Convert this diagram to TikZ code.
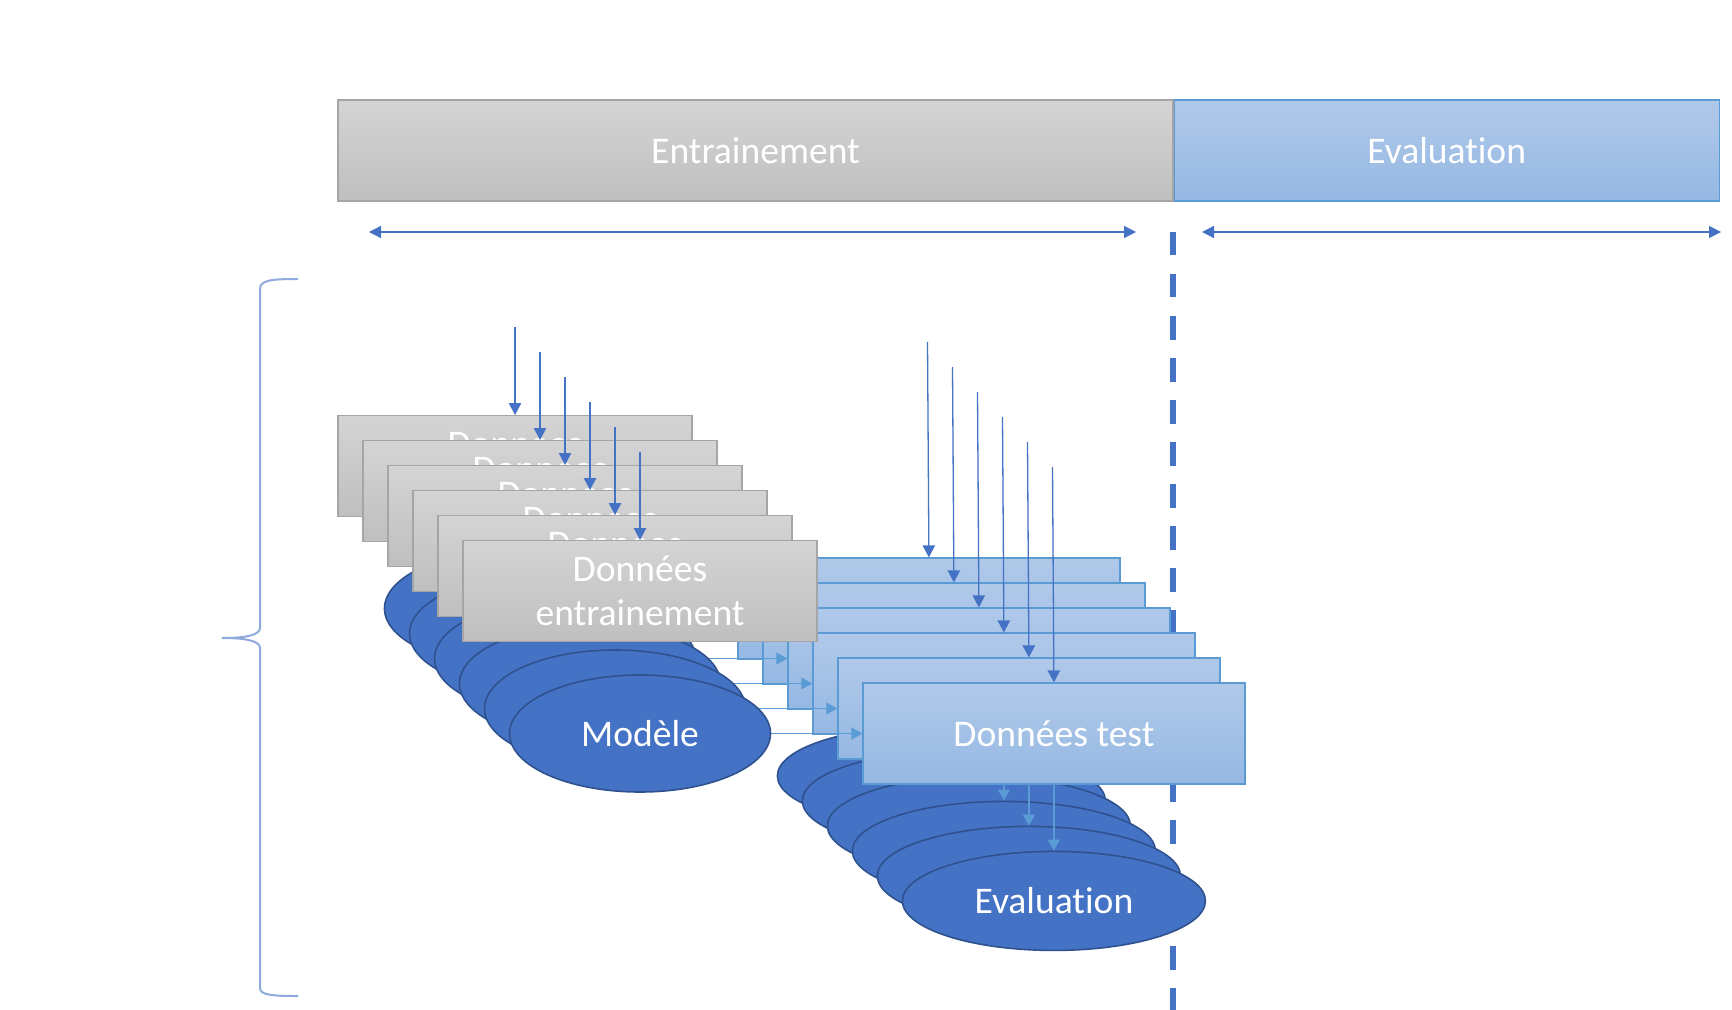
\documentclass[tikz,border=0pt]{standalone}
\usepackage{fontspec}
\setmainfont{Carlito}[Ligatures=CommonOff]
\usetikzlibrary{positioning,arrows.meta,shapes.geometric}
\definecolor{cdark}{HTML}{4472C4}
\definecolor{clight}{HTML}{5B9BD5}
\definecolor{cedge}{HTML}{2F528F}
\definecolor{cgrayedge}{HTML}{A5A5A5}
\definecolor{cgraytop}{HTML}{D4D4D4}
\definecolor{cgraybot}{HTML}{BFBFBF}
\definecolor{cbluetop}{HTML}{B0C9E9}
\definecolor{cbluebot}{HTML}{95B8E3}
\definecolor{cbrace}{HTML}{8FAADC}
\pgfdeclarelayer{paper}
\pgfdeclarelayer{under}
\pgfdeclarelayer{front}
\pgfsetlayers{paper,under,main,front}
\tikzset{
  lbl/.style={font=\fontsize{18.8}{22}\selectfont, text=white, align=center, inner sep=0pt},
  graybox/.style={lbl, rectangle, draw=cgrayedge, line width=0.6pt, top color=cgraytop,
                  bottom color=cgraybot, minimum width=177pt, minimum height=50.5pt},
  bluebox/.style={lbl, rectangle, draw=clight, line width=0.6pt, top color=cbluetop,
                  bottom color=cbluebot, minimum width=191pt, minimum height=50.5pt},
  model/.style={lbl, ellipse, draw=cedge, line width=0.8pt, fill=cdark,
                minimum width=130.5pt, minimum height=58.5pt},
  score/.style={lbl, ellipse, draw=cedge, line width=0.8pt, fill=cdark,
                minimum width=151.5pt, minimum height=49.5pt},
  feed/.style={-{Triangle[length=6pt, width=6.2pt]}, draw=cdark, line width=0.65pt},
  link/.style={-{Triangle[length=5.5pt, width=6pt]}, draw=clight, line width=0.6pt},
  span/.style={draw=cdark, line width=0.65pt, {Triangle[length=6pt, width=6pt]}-{Triangle[length=6pt, width=6pt]}},
  cutline/.style={draw=cdark, line width=3pt, dash pattern=on 11.75pt off 9.25pt}
}
\begin{document}
\begin{tikzpicture}[x=0.5pt, y=-0.5pt]
\begin{pgfonlayer}{paper}
\fill[white] (0,0) rectangle (1732,1010);
\end{pgfonlayer}
\path[use as bounding box] (0,0) rectangle (1732,1010);
% phases
\node[graybox, minimum width=417.5pt] (entr) at (755.5,150.5) {Entrainement};
\node[bluebox, minimum width=272.5pt, right=0pt of entr] (eval) {Evaluation};
\coordinate (trl) at (369,232);
\coordinate (trr) at (1136,232);
\coordinate (evl) at (1202,232);
\coordinate (evr) at (1721,232);
\coordinate (cutt) at (1173,232);
\coordinate (cutb) at (1173,1010);
\draw[span] (trl) -- (trr);
\draw[span] (evl) -- (evr);
\begin{pgfonlayer}{paper}
\draw[cutline] (cutt) -- (cutb);
\end{pgfonlayer}
% brace
\draw[cbrace, line width=1pt] (298,279) .. controls (272,279) and (260,280) .. (260,289)
  -- (260,628) .. controls (260,636) and (242,638) .. (222,638)
  .. controls (242,638) and (260,640) .. (260,648)
  -- (260,988) .. controls (260,995) and (272,996) .. (298,996);
% training stack
\begin{pgfonlayer}{front}
\foreach \i in {0,...,5} {
  \node[model] (md\i) at (515+25*\i, 608.5+25*\i) {Modèle};
}
\foreach \i in {0,...,5} {
  \node[graybox, above=16pt of md\i] (tr\i) {Données\\entrainement};
  \coordinate (trin\i) at (515+25*\i, 327+25*\i);
  \draw[feed] (trin\i) -- (tr\i.north);
}
\end{pgfonlayer}
% test stack
\foreach \i in {0,...,5} {
  \node[bluebox, right=45.5pt of md\i] (ts\i) {Données test};
  \coordinate (tsin\i) at (927.5+25*\i, 342+25*\i);
  \draw[feed] (tsin\i) -- (ts\i.north);
}
\foreach \i in {0,...,5} {
  \draw[link] (md\i.east) -- (ts\i.west);
}
% evaluation stack
\begin{pgfonlayer}{paper}
\foreach \i in {0,...,5} {
  \node[score, below=33pt of ts\i] (ev\i) {Evaluation};
}
\end{pgfonlayer}
\begin{pgfonlayer}{under}
\foreach \i in {0,...,5} {
  \draw[link] (ts\i.south) -- (ev\i.north);
}
\end{pgfonlayer}
\end{tikzpicture}
\end{document}
